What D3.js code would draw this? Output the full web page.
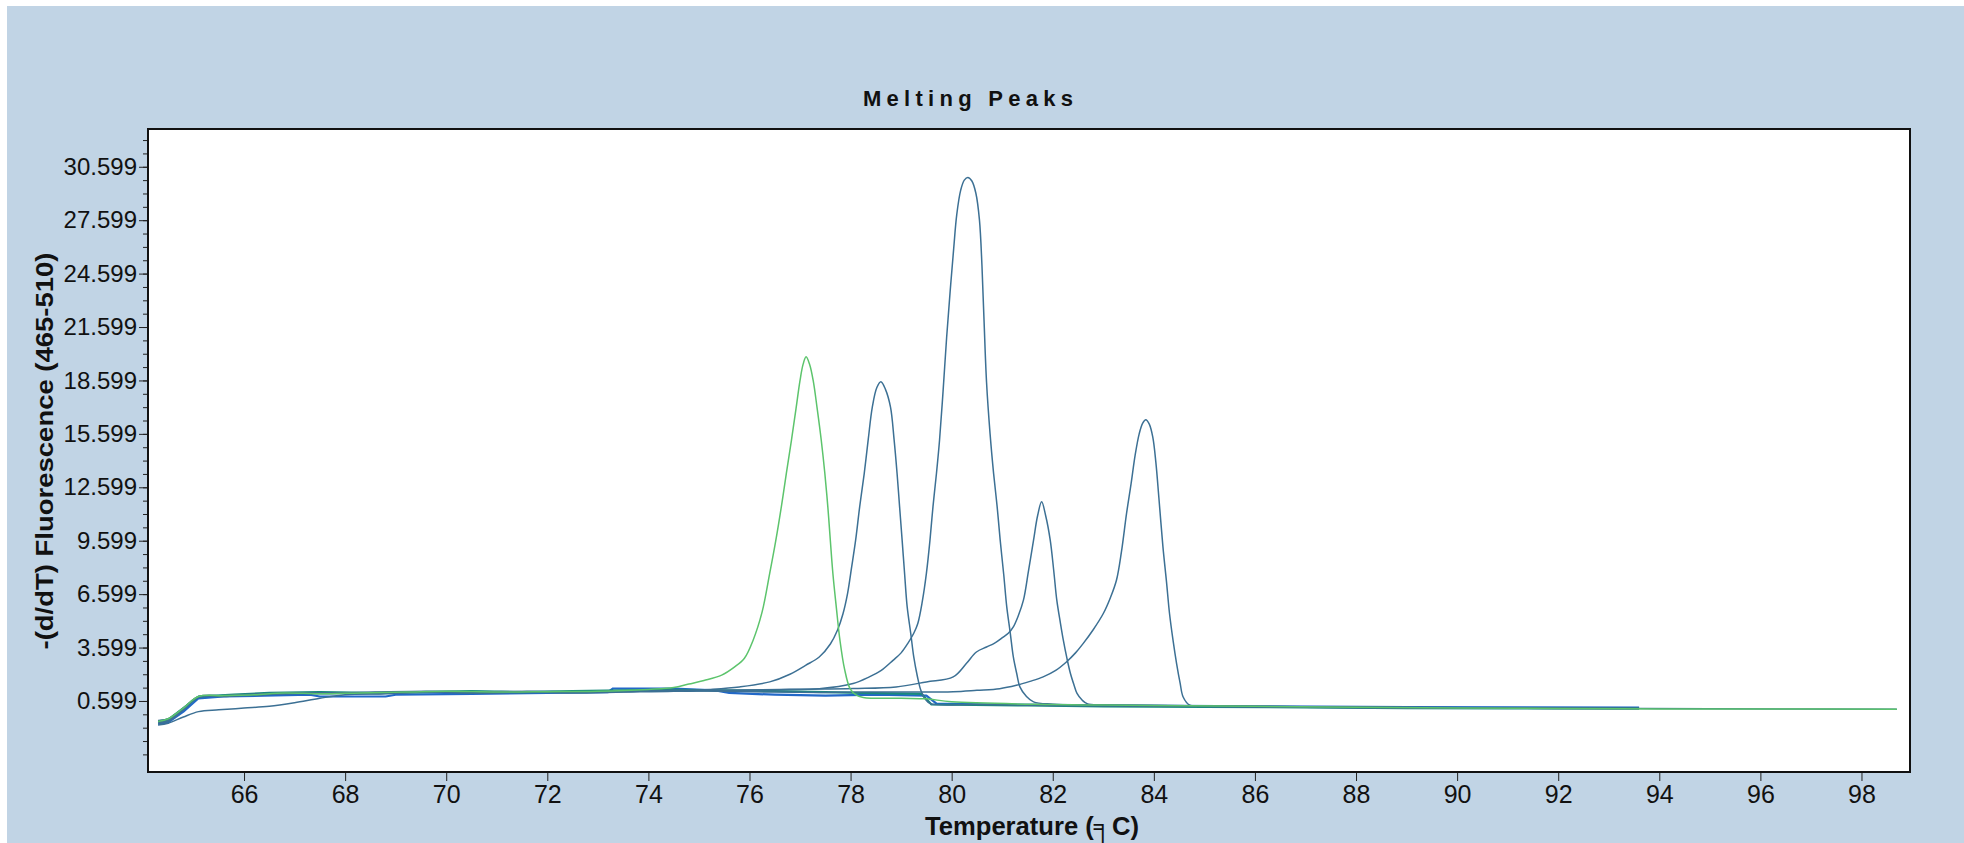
<!DOCTYPE html>
<meta charset="utf-8">
<style>
  body { margin: 0; background: #fff; }
  text { font-family: "Liberation Sans", Arial, sans-serif; fill: #111; }
</style>
<body>
<script src="https://d3js.org/d3.v7.min.js"></script>
<script>

var width = 1964,
    height = 843;

// axis ticks
var xTicks = [66, 68, 70, 72, 74, 76, 78, 80, 82, 84, 86, 88, 90, 92, 94, 96, 98];
var yTicks = [0.599, 3.599, 6.599, 9.599, 12.599, 15.599, 18.599, 21.599, 24.599, 27.599, 30.599];

// melting curves [temperature, -(d/dT) fluorescence]
var greenCurve = [[64.3,-0.55],[64.5,-0.4],[64.8,0.2],[65.1,0.85],[65.6,0.9],[66.2,0.95],[66.8,1.05],[67.5,1.0],[68.3,1.05],[69.2,1.1],[70,1.15],[71,1.1],[72,1.12],[73,1.15],[74,1.25],[74.5,1.35],[74.8,1.55],[75.1,1.75],[75.45,2.05],[75.7,2.5],[75.9,3.0],[76.07,4.0],[76.25,5.6],[76.4,7.76],[76.52,9.6],[76.63,11.5],[76.73,13.4],[76.83,15.24],[76.92,17.0],[77.0,18.6],[77.06,19.5],[77.12,19.93],[77.19,19.5],[77.26,18.6],[77.34,17.0],[77.42,15.24],[77.49,13.4],[77.55,11.5],[77.6,9.6],[77.65,7.76],[77.72,5.8],[77.79,4.0],[77.88,2.4],[77.99,1.29],[78.1,0.95],[78.25,0.8],[79,0.75],[79.5,0.72],[80,0.55],[82,0.4],[84,0.35],[86,0.3],[88,0.25],[90,0.2],[92,0.18],[94,0.15],[96,0.15],[98.7,0.14]];

var curve786 = [[64.3,-0.65],[64.5,-0.55],[64.8,0.1],[65.1,0.8],[65.6,0.85],[66.2,0.95],[66.8,1.0],[67.6,1.05],[68.5,1.0],[69.5,1.1],[70.5,1.05],[71.5,1.1],[72.5,1.05],[73.5,1.1],[74.5,1.15],[75.2,1.25],[75.8,1.39],[76.4,1.67],[76.8,2.1],[77.11,2.6],[77.38,3.07],[77.6,3.8],[77.74,4.57],[77.85,5.5],[77.94,6.63],[78.02,8.1],[78.1,9.63],[78.18,11.5],[78.27,13.37],[78.35,15.3],[78.43,17.1],[78.52,18.2],[78.6,18.52],[78.69,18.1],[78.79,17.1],[78.86,15.3],[78.92,13.37],[78.97,11.5],[79.02,9.63],[79.07,7.7],[79.12,5.88],[79.19,4.4],[79.25,3.07],[79.32,2.0],[79.39,1.2],[79.48,0.7],[79.58,0.45],[80.5,0.4],[82,0.35],[84,0.3],[86,0.28],[88,0.22],[90,0.2],[92,0.18],[93.6,0.16]];

var curve803 = [[64.3,-0.5],[64.5,-0.4],[64.8,0.2],[65.1,0.85],[65.6,0.9],[66.3,1.0],[67,1.05],[67.8,1.05],[68.6,1.1],[69.6,1.15],[70.6,1.1],[71.6,1.15],[72.6,1.1],[73.6,1.15],[74.6,1.2],[75.6,1.2],[76.6,1.25],[77.38,1.29],[78.05,1.58],[78.37,1.95],[78.6,2.3],[78.84,2.88],[79.0,3.3],[79.13,3.82],[79.25,4.4],[79.33,4.95],[79.42,6.2],[79.5,7.76],[79.57,9.6],[79.63,11.5],[79.7,13.4],[79.76,15.24],[79.83,18.0],[79.9,21.0],[79.97,23.6],[80.04,26.0],[80.1,27.9],[80.18,29.3],[80.25,29.85],[80.32,30.0],[80.4,29.8],[80.48,29.1],[80.55,27.6],[80.6,25.0],[80.64,22.0],[80.69,18.5],[80.76,15.6],[80.83,13.37],[80.9,11.5],[80.96,9.63],[81.03,7.7],[81.09,5.88],[81.16,4.4],[81.22,3.07],[81.29,2.1],[81.35,1.39],[81.48,0.85],[81.62,0.55],[82,0.42],[84,0.35],[86,0.3],[88,0.25],[90,0.22],[92,0.2],[93.6,0.18]];

var curve818 = [[64.3,-0.75],[64.5,-0.65],[64.8,-0.3],[65.1,0.0],[65.5,0.1],[66,0.2],[66.5,0.3],[67,0.5],[67.5,0.75],[68,0.95],[68.8,1.0],[69.8,1.1],[70.8,1.05],[71.8,1.1],[72.8,1.1],[73.8,1.15],[74.8,1.15],[76,1.2],[77,1.25],[78.05,1.3],[78.9,1.39],[79.5,1.67],[80.03,1.95],[80.29,2.7],[80.49,3.35],[80.69,3.63],[80.85,3.85],[81.02,4.19],[81.12,4.4],[81.22,4.76],[81.32,5.4],[81.42,6.26],[81.52,7.9],[81.62,9.63],[81.7,11.0],[81.78,11.78],[81.86,11.0],[81.95,9.63],[82.02,7.9],[82.08,6.26],[82.15,5.0],[82.21,4.0],[82.28,3.0],[82.35,2.14],[82.42,1.5],[82.48,1.02],[82.58,0.65],[82.68,0.45],[83,0.38],[85,0.32],[87,0.27],[89,0.24],[91,0.2],[93.6,0.18]];

var curve838 = [[64.3,-0.6],[64.5,-0.5],[64.8,0.15],[65.1,0.8],[65.6,0.88],[66.2,0.92],[66.9,1.02],[67.6,1.0],[68.4,1.05],[69.4,1.1],[70.4,1.12],[71.4,1.08],[72.4,1.1],[73.4,1.12],[74.4,1.18],[75.4,1.15],[76.4,1.1],[77.4,1.08],[78.4,1.1],[79.2,1.1],[80.03,1.12],[80.5,1.2],[80.95,1.29],[81.28,1.48],[81.55,1.7],[81.81,1.95],[82.05,2.3],[82.27,2.79],[82.45,3.3],[82.6,3.82],[82.8,4.6],[83.0,5.51],[83.14,6.4],[83.26,7.38],[83.36,9.0],[83.46,11.13],[83.55,12.8],[83.63,14.4],[83.71,15.6],[83.78,16.2],[83.84,16.39],[83.91,16.15],[83.98,15.4],[84.04,14.0],[84.1,12.0],[84.18,9.25],[84.25,7.3],[84.31,5.51],[84.38,4.0],[84.45,2.7],[84.52,1.6],[84.58,0.82],[84.71,0.36],[85,0.3],[87,0.27],[89,0.22],[91,0.2],[93,0.18],[95,0.16],[98.7,0.14]];

var blueFlat = [[64.3,-0.7],[64.5,-0.6],[64.8,0.0],[65.1,0.75],[65.6,0.85],[66.4,0.9],[67.3,0.95],[67.5,0.85],[68.8,0.85],[69,0.95],[70.5,1.0],[72,1.05],[73.2,1.1],[73.3,1.3],[74.5,1.3],[75.3,1.2],[75.6,1.05],[76.5,0.95],[77.5,0.9],[78.5,0.95],[79.5,0.9],[79.7,0.45],[81,0.4],[83,0.35],[86,0.3],[89,0.25],[93.6,0.22]];

var tealFlat = [[64.3,-0.55],[64.5,-0.45],[64.8,0.2],[65.1,0.85],[65.8,0.95],[66.5,1.05],[67.5,1.1],[68.5,1.05],[69.5,1.1],[70.5,1.15],[71.5,1.1],[72.5,1.15],[73.5,1.2],[74.5,1.22],[75.5,1.2],[76.5,1.15],[77.5,1.1],[78.2,1.05],[79.4,1.0],[79.6,0.4],[81.5,0.35],[83,0.3],[85,0.27],[89,0.2],[91,0.18],[93.6,0.18]];

var series = [
  {values: blueFlat, color: "#2268c8", w: 2.2, smooth: false},
  {values: tealFlat, color: "#178a7c", w: 2.2, smooth: false},
  {values: curve818, color: "#3c7094", w: 1.5, smooth: true},
  {values: curve838, color: "#3c7094", w: 1.5, smooth: true},
  {values: curve786, color: "#3c7094", w: 1.5, smooth: true},
  {values: curve803, color: "#3c7094", w: 1.5, smooth: true},
  {values: greenCurve, color: "#5cc46c", w: 1.5, smooth: true}
];

var plot = {left: 148, right: 1910, top: 129, bottom: 772};

var svg = d3.select("body").append("svg")
    .attr("width", width)
    .attr("height", height);

svg.append("rect")
    .attr("x", 7).attr("y", 6)
    .attr("width", width - 7).attr("height", height - 6)
    .attr("fill", "#c1d4e5");

var x = d3.scaleLinear().domain([64.1, 98.96]).range([plot.left, plot.right]);
var y = d3.scaleLinear().domain([-3.39, 32.72]).range([plot.bottom, plot.top]);

svg.append("rect")
    .attr("x", plot.left).attr("y", plot.top)
    .attr("width", plot.right - plot.left).attr("height", plot.bottom - plot.top)
    .attr("fill", "#fff");

svg.append("clipPath").attr("id", "clip")
  .append("rect")
    .attr("x", plot.left).attr("y", plot.top)
    .attr("width", plot.right - plot.left).attr("height", plot.bottom - plot.top);

var smoothLine = d3.line()
    .x(function(d) { return x(d[0]); })
    .y(function(d) { return y(d[1]); })
    .curve(d3.curveCatmullRom.alpha(0.5));

var flatLine = d3.line()
    .x(function(d) { return x(d[0]); })
    .y(function(d) { return y(d[1]); });

svg.append("g").attr("clip-path", "url(#clip)")
  .selectAll("path")
  .data(series)
  .enter().append("path")
    .attr("d", function(d) { return d.smooth ? smoothLine(d.values) : flatLine(d.values); })
    .attr("fill", "none")
    .attr("stroke", function(d) { return d.color; })
    .attr("stroke-width", function(d) { return d.w; })
    .attr("stroke-linejoin", "round");

// minor y ticks every 0.75
var minor = [];
for (var v = yTicks[0] - 4 * 0.75; v <= y.domain()[1]; v += 0.75) {
  if (v >= y.domain()[0]) minor.push(v);
}

svg.append("g")
    .attr("transform", "translate(" + plot.left + ",0)")
    .call(d3.axisLeft(y).tickValues(minor).tickSize(5).tickFormat(""))
    .call(function(g) { g.select(".domain").remove(); });

var yAxis = svg.append("g")
    .attr("transform", "translate(" + plot.left + ",0)")
    .call(d3.axisLeft(y).tickValues(yTicks).tickSize(9).tickPadding(2)
      .tickFormat(function(d) { return d3.format(".3f")(d); }));
yAxis.select(".domain").remove();
yAxis.selectAll("text").style("font-size", "24px").style("font-family", "'Liberation Sans', Arial, sans-serif");

var xAxis = svg.append("g")
    .attr("transform", "translate(0," + plot.bottom + ")")
    .call(d3.axisBottom(x).tickValues(xTicks).tickSize(9).tickPadding(4).tickFormat(d3.format("d")));
xAxis.select(".domain").remove();
xAxis.selectAll("text").style("font-size", "25px").style("font-family", "'Liberation Sans', Arial, sans-serif");

svg.selectAll(".tick line").attr("stroke", "#222");

// frame on top
svg.append("rect")
    .attr("x", plot.left).attr("y", plot.top)
    .attr("width", plot.right - plot.left).attr("height", plot.bottom - plot.top)
    .attr("fill", "none")
    .attr("stroke", "#111")
    .attr("stroke-width", 2);

svg.append("text")
    .attr("x", 968).attr("y", 106)
    .attr("text-anchor", "middle")
    .attr("textLength", 210)
    .attr("lengthAdjust", "spacing")
    .style("font-size", "22px")
    .style("font-weight", "bold")
    .text("Melting Peaks");

svg.append("text")
    .attr("transform", "translate(53,451) rotate(-90)")
    .attr("text-anchor", "middle")
    .attr("textLength", 397)
    .attr("lengthAdjust", "spacingAndGlyphs")
    .style("font-size", "23px")
    .style("font-weight", "bold")
    .text("-(d/dT) Fluorescence (465-510)");

svg.append("text")
    .attr("x", 1032).attr("y", 835)
    .attr("text-anchor", "middle")
    .attr("textLength", 214)
    .attr("lengthAdjust", "spacingAndGlyphs")
    .style("font-size", "26px")
    .style("font-weight", "bold")
    .text("Temperature (\u2555C)");

</script>
